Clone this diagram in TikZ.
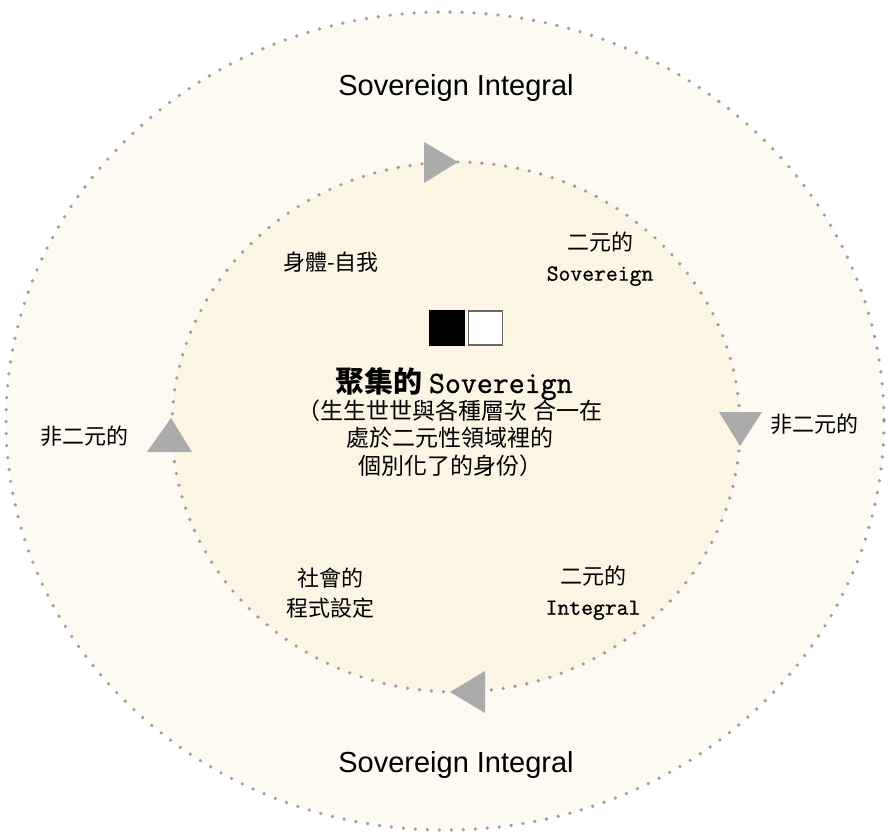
\documentclass[tikz,border=0pt]{standalone}
\usepackage{fontspec}
\setmainfont{Liberation Sans}
\setmonofont{Latin Modern Mono}[FakeBold=0.8]
\newfontfamily\cjk{Noto Sans CJK TC}
\definecolor{ringFill}{HTML}{FDFAF1}
\definecolor{coreFill}{HTML}{FCF5E4}
\definecolor{dotGray}{HTML}{9C9C9C}
\definecolor{arrGray}{HTML}{ABABAB}

\begin{document}
\begin{tikzpicture}[x=1pt,y=-1pt]
		\tikzstyle{ring} = [draw=dotGray, line width=3.6pt, line cap=round, dash pattern=on 0pt off 12pt]
		\tikzstyle{tri} = [fill=arrGray]
		\tikzstyle{big} = [font=\fontsize{29}{32}\selectfont]
		\tikzstyle{lbl} = [font=\cjk\fontsize{22}{30}\selectfont, align=center, inner sep=0pt]
		\tikzstyle{sq} = [minimum size=36pt, inner sep=0pt]

		\useasboundingbox (0,0) rectangle (889,836);

		% the two rings
		\filldraw[ring, fill=ringFill] (445,421) ellipse [x radius=439, y radius=409];
		\filldraw[ring, fill=coreFill] (456,427) ellipse [x radius=284, y radius=265];

		% arrow heads on the inner ring
		\fill[tri] (424,142) -- (458,162) -- (424,183) -- cycle;
		\fill[tri] (719,412) -- (762,412) -- (740,446) -- cycle;
		\fill[tri] (485,671) -- (450,692) -- (485,713) -- cycle;
		\fill[tri] (147,452) -- (192,452) -- (171,418) -- cycle;

		\node[big] (topSI) at (456,88) {Sovereign Integral};
		\node[big] (botSI) at (456,765) {Sovereign Integral};

		\node[lbl] (nondualL) at (84,436) {非二元的};
		\node[lbl] (nondualR) at (814,424) {非二元的};

		\node[lbl] (bodySelf) at (331,262) {身體-自我};
		\node[lbl] (dualSov) at (600,259) {二元的\\{\ttfamily\fontsize{23}{30}\selectfont Sovereign}};
		\node[lbl] (socialProg) at (330,593) {社會的\\程式設定};
		\node[lbl] (dualInt) at (593,593) {二元的\\{\ttfamily\fontsize{23}{30}\selectfont Integral}};

		\node[sq, fill=black] (blackSq) at (447,328) {};
		\node[sq, fill=white, draw=black!60, line width=1.2pt, minimum size=34pt] (whiteSq) at (485.5,328) {};

		\node[lbl, font=\cjk\bfseries\fontsize{29}{32}\selectfont] (coreTitle) at (454,384)
			{聚集的 {\ttfamily\mdseries\fontsize{31}{32}\selectfont Sovereign}};
		\node[lbl, font=\cjk\fontsize{23}{27.5}\selectfont] (coreNote) at (450,438)
			{（生生世世與各種層次 合一在\\處於二元性領域裡的\\個別化了的身份）};
\end{tikzpicture}
\end{document}
